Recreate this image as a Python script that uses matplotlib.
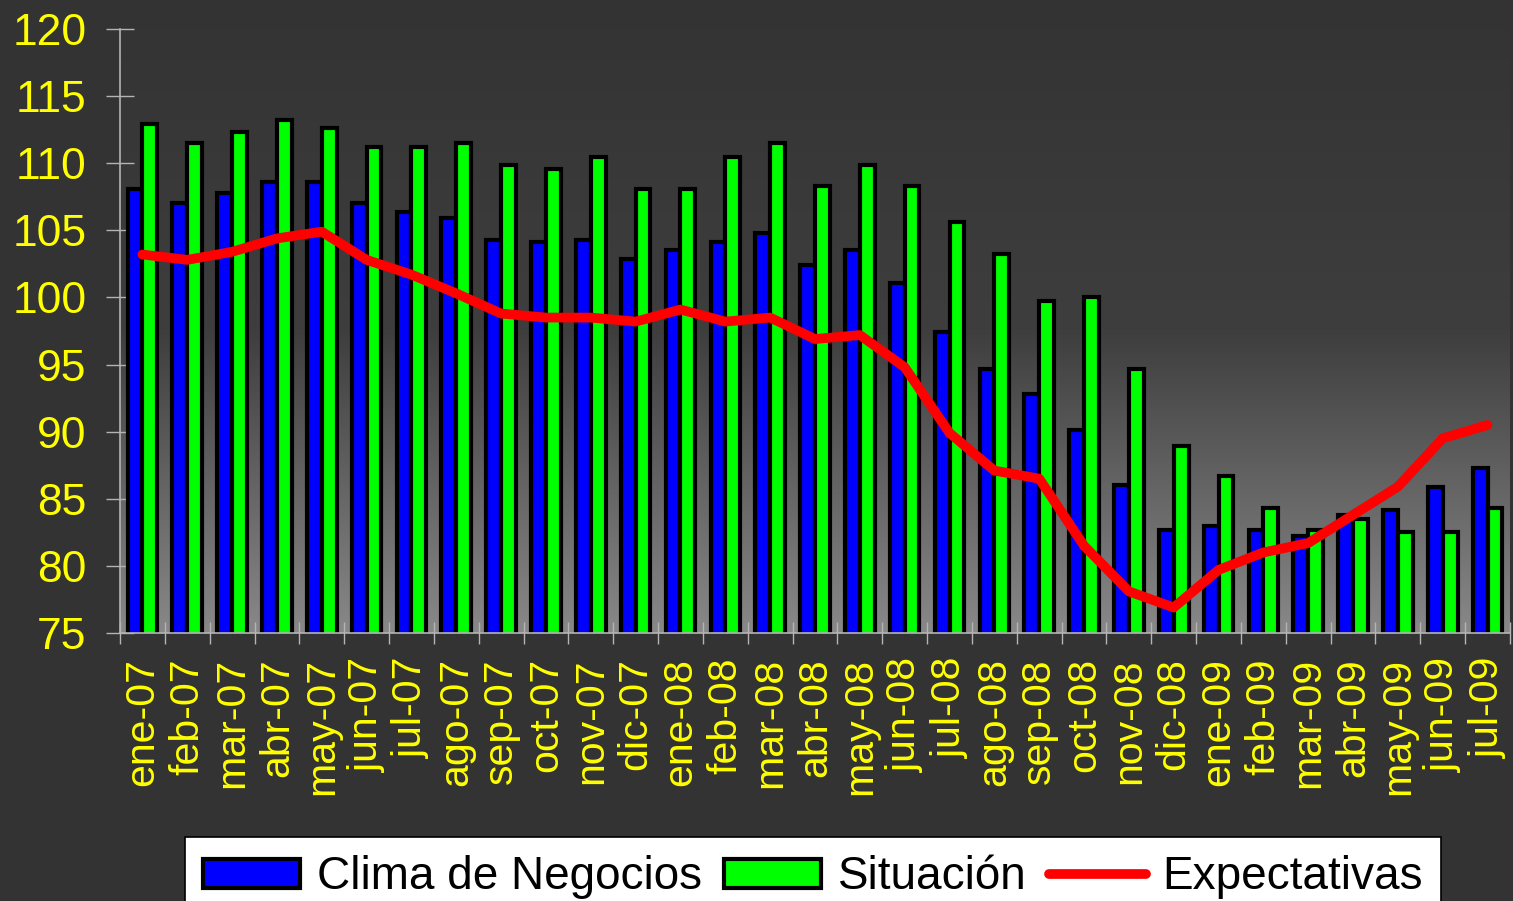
import numpy as np
import matplotlib.pyplot as plt
from matplotlib.colors import LinearSegmentedColormap

# meses del periodo
meses = ["ene-07", "feb-07", "mar-07", "abr-07", "may-07", "jun-07", "jul-07",
         "ago-07", "sep-07", "oct-07", "nov-07", "dic-07",
         "ene-08", "feb-08", "mar-08", "abr-08", "may-08", "jun-08", "jul-08",
         "ago-08", "sep-08", "oct-08", "nov-08", "dic-08",
         "ene-09", "feb-09", "mar-09", "abr-09", "may-09", "jun-09", "jul-09"]

clima = [108.1, 107.0, 107.8, 108.6, 108.6, 107.0, 106.4, 105.9, 104.3, 104.1,
         104.3, 102.9, 103.5, 104.1, 104.8, 102.4, 103.5, 101.1, 97.4, 94.7,
         92.8, 90.1, 86.0, 82.7, 83.0, 82.7, 82.2, 83.8, 84.2, 85.9, 87.3]

situacion = [112.9, 111.5, 112.3, 113.2, 112.6, 111.2, 111.2, 111.5, 109.9, 109.6,
             110.5, 108.1, 108.1, 110.5, 111.5, 108.3, 109.9, 108.3, 105.6, 103.2,
             99.7, 100.0, 94.7, 88.9, 86.7, 84.3, 82.7, 83.5, 82.5, 82.5, 84.3]

expectativas = [103.2, 102.8, 103.4, 104.4, 104.9, 102.8, 101.7, 100.3, 98.8, 98.5,
                98.5, 98.2, 99.1, 98.2, 98.5, 96.9, 97.2, 94.8, 89.9, 87.1,
                86.5, 81.5, 78.1, 76.9, 79.7, 81.0, 81.7, 83.8, 85.9, 89.5, 90.5]

series = ["Clima de Negocios", "Situación", "Expectativas"]
yticks = list(range(75, 121, 5))

plt.rcParams['font.family'] = ['Liberation Sans', 'DejaVu Sans']

fig = plt.figure(figsize=(15.13, 9.01), dpi=100, facecolor="#333333")
ax = fig.add_axes([120 / 1513, 1 - 633 / 901, 1390 / 1513, 604 / 901])
ax.set_facecolor("#333333")

x = np.arange(len(meses))
ax.set_xlim(-0.5, len(meses) - 0.5)
ax.set_ylim(75, 120)

# fondo degradado: oscuro arriba, gris claro abajo
cmap = LinearSegmentedColormap.from_list("fondo", ["#343434", "#3e3e3e", "#888888"])
grad = np.linspace(0, 1, 256).reshape(-1, 1)
ax.imshow(grad, cmap=cmap, aspect="auto", extent=[-0.5, len(meses) - 0.5, 75, 120],
          zorder=0, origin="upper")

w = 0.33
b1 = ax.bar(x - w / 2, clima, w, color="#0000ff", edgecolor="black", linewidth=3, zorder=2)
b2 = ax.bar(x + w / 2, situacion, w, color="#00ff00", edgecolor="black", linewidth=3, zorder=2)
l1, = ax.plot(x, expectativas, color="#ff0000", linewidth=7, solid_capstyle="round",
              solid_joinstyle="round", zorder=3)

for s in ["top", "right"]:
    ax.spines[s].set_visible(False)
for s in ["left", "bottom"]:
    ax.spines[s].set_color("#b4b4b4")
    ax.spines[s].set_linewidth(1.2)
    ax.spines[s].set_zorder(4)

ax.set_yticks(yticks)
ax.tick_params(axis="y", direction="inout", length=20, width=1, color="#b4b4b4",
               labelcolor="#ffff00", labelsize=32, pad=14)

ax.set_xticks(x)
ax.set_xticklabels(meses, rotation=90, va="top", ha="center")
ax.tick_params(axis="x", which="major", length=0, labelcolor="#ffff00", labelsize=29.5, pad=18)
ax.set_xticks(np.arange(len(meses) + 1) - 0.5, minor=True)
ax.tick_params(axis="x", which="minor", direction="inout", length=16, width=1, color="#b4b4b4")

leg = fig.legend(handles=[b1, b2, l1], labels=series,
                 loc="upper left", bbox_to_anchor=(185 / 1513, 1 - 837 / 901),
                 ncol=3, fontsize=33, frameon=True, fancybox=False, framealpha=1,
                 handlelength=2.1, handleheight=0.6, handletextpad=0.37,
                 columnspacing=0.5, borderpad=0.4, borderaxespad=0)
leg.get_frame().set_facecolor("white")
leg.get_frame().set_edgecolor("black")
leg.get_frame().set_linewidth(1.2)

fig.savefig("out.png", dpi=100, facecolor=fig.get_facecolor())
